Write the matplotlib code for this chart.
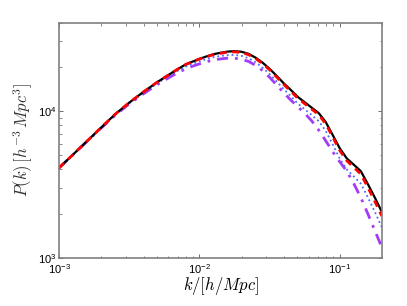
import matplotlib
matplotlib.use("Agg")
import matplotlib.pyplot as plt
from matplotlib.ticker import LogLocator, NullFormatter

plt.rcParams['font.family'] = ['Liberation Sans', 'DejaVu Sans']
plt.rcParams['mathtext.fontset'] = 'cm'

# wavenumber k [h/Mpc]
k = [0.001, 0.001259, 0.001585, 0.001995, 0.002512, 0.003162, 0.003981,
     0.005012, 0.006310, 0.007079, 0.007943, 0.008913, 0.01, 0.01122,
     0.01259, 0.01413, 0.01585, 0.01778, 0.01995, 0.02239, 0.02512,
     0.02818, 0.03162, 0.03548, 0.03981, 0.04467, 0.05012, 0.05623,
     0.06310, 0.07079, 0.07943, 0.08913, 0.1, 0.1122, 0.1259, 0.1413,
     0.1585, 0.1778, 0.1995]

# P(k) [h^-3 Mpc^3] for the four models
p_black = [4093, 5047, 6237, 7709, 9506, 11400, 13460, 15740, 18110, 19410,
           20700, 21680, 22650, 23550, 24380, 24950, 25410, 25590, 25350,
           24550, 23120, 21380, 19410, 17380, 15490, 13960, 12500, 11480,
           10540, 9683, 8414, 6855, 5572, 4753, 4305, 3890, 3177, 2570, 2051]
p_red = [4093, 5047, 6237, 7709, 9506, 11400, 13460, 15740, 18110, 19410,
         20700, 21680, 22620, 23440, 24210, 24720, 25180, 25300, 25060,
         24210, 22800, 21040, 19100, 17060, 15210, 13670, 12240, 11220,
         10300, 9441, 8184, 6653, 5383, 4581, 4130, 3715, 3020, 2426, 1923]
p_blue = [4093, 5047, 6237, 7691, 9441, 11300, 13270, 15450, 17700, 18880,
          20040, 20940, 21780, 22540, 23280, 23710, 24040, 24100, 23770,
          22910, 21480, 19770, 17870, 15920, 14130, 12650, 11270, 10280,
          9397, 8531, 7328, 5902, 4742, 3999, 3581, 3199, 2582, 2056, 1611]
p_purple = [4093, 5047, 6209, 7638, 9354, 11170, 13060, 15140, 17260, 18320,
            19320, 20180, 20940, 21680, 22230, 22650, 22910, 22910, 22540,
            21780, 20510, 18880, 16980, 15070, 13340, 11910, 10720, 9661,
            8570, 7413, 6266, 5272, 4508, 3890, 3199, 2570, 1995, 1531, 1175]

fig = plt.figure(figsize=(4.07, 3.06), dpi=100)
ax = fig.add_axes([59 / 407, 1 - 257.7 / 306, (382 - 59) / 407, (257.7 - 22.7) / 306])

ax.loglog(k, p_purple, color='#a53cf5', ls='-.', lw=2.0, dashes=(4, 2.5, 1, 2.5))
ax.loglog(k, p_blue, color='#4a6cff', ls=':', lw=1.3)
ax.loglog(k, p_black, color='black', ls='-', lw=1.6)
ax.loglog(k, p_red, color='red', ls='--', lw=2.0, dashes=(2.5, 2))

ax.set_xlim(1e-3, 0.2)
ax.set_ylim(1e3, 4e4)

ax.xaxis.set_major_locator(LogLocator(base=10))
ax.yaxis.set_major_locator(LogLocator(base=10))
ax.xaxis.set_minor_locator(LogLocator(base=10, subs=range(2, 10)))
ax.yaxis.set_minor_locator(LogLocator(base=10, subs=range(2, 10)))
ax.xaxis.set_minor_formatter(NullFormatter())
ax.yaxis.set_minor_formatter(NullFormatter())

ax.tick_params(which='both', direction='in', top=True, right=True,
               colors='#555555', labelcolor='black', labelsize=8)
ax.tick_params(axis='x', pad=3.5)
ax.tick_params(axis='y', pad=2)
ax.tick_params(which='major', length=3, width=0.6)
ax.tick_params(which='minor', length=1.8, width=0.5)
for s in ax.spines.values():
    s.set_color('#808080')
    s.set_linewidth(1.2)

ax.set_xlabel(r'$k/[h/Mpc]$', fontsize=12, labelpad=-1)
ax.set_ylabel(r'$P(k)\,[h^{-3}\,Mpc^3]$', fontsize=12, labelpad=2, color='#333333')

fig.savefig('out.png', dpi=100)
